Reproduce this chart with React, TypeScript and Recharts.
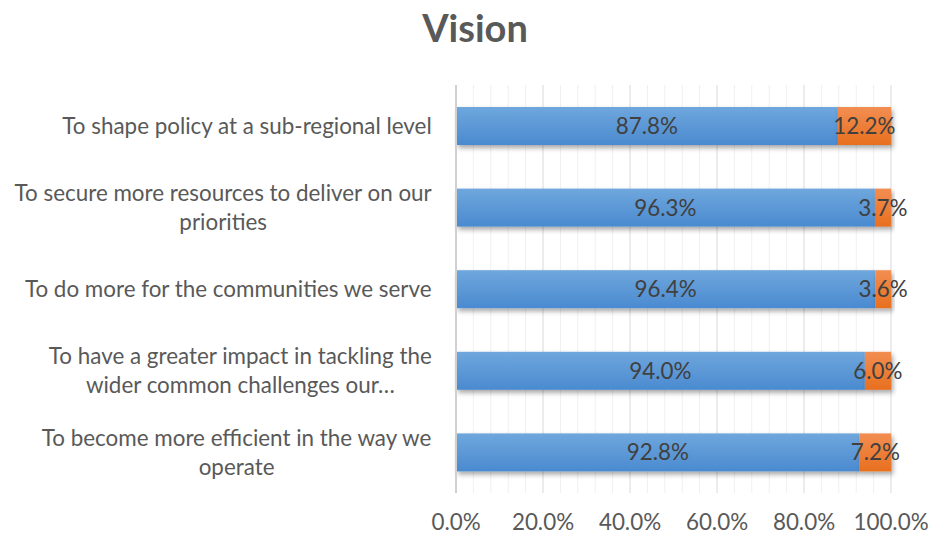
import React from 'react';
import { BarChart, Bar, XAxis, YAxis, CartesianGrid, LabelList } from 'recharts';

const categories = [
  'To shape policy at a sub-regional level',
  'To secure more resources to deliver on our\npriorities',
  'To do more for the communities we serve',
  'To have a greater impact in tackling the\nwider common challenges our…',
  'To become more efficient in the way we\noperate',
];
const yesValues = [87.8, 96.3, 96.4, 94.0, 92.8];
const noValues = [12.2, 3.7, 3.6, 6.0, 7.2];
const majorTicks = [0, 20, 40, 60, 80, 100];
const minorTicks = [4, 8, 12, 16, 24, 28, 32, 36, 44, 48, 52, 56, 64, 68, 72, 76, 84, 88, 92, 96];

const data = categories.map((c, i) => ({ name: c, yes: yesValues[i], no: noValues[i] }));

const FONT = 'Lato, "Open Sans", sans-serif';
const LABEL_SIZE = 22.4;

let ctx: CanvasRenderingContext2D | null = null;
function measure(text: string, font: string) {
  if (!ctx) ctx = document.createElement('canvas').getContext('2d');
  if (!ctx) return text.length * 10;
  ctx.font = font;
  return ctx.measureText(text).width;
}

const pct = (v: any) => Number(v).toFixed(1) + '%';

const CategoryTick = (props: any) => {
  const { x, y, payload } = props;
  const lines: string[] = String(payload.value).split('\n');
  const font = `${LABEL_SIZE}px Lato`;
  const blockW = Math.max(...lines.map((l) => measure(l, font)));
  const right = x - 16;
  const cx = right - blockW / 2;
  const lh = 29;
  const startY = y - ((lines.length - 1) * lh) / 2;
  return (
    <g>
      {lines.map((l, i) => (
        <text
          key={i}
          x={cx}
          y={startY + i * lh}
          dy="0.35em"
          textAnchor="middle"
          fill="#595959"
          fontSize={LABEL_SIZE}
          fontFamily={FONT}
        >
          {l}
        </text>
      ))}
    </g>
  );
};

const makeShape = (grad: string) => (props: any) => {
  const { x, y, width, height } = props;
  if (!width || width <= 0) return <g />;
  return <rect x={x} y={y} width={width} height={height} fill={`url(#${grad})`} filter="url(#barShadow)" />;
};

const BlueShape = makeShape('gBlue');
const OrangeShape = makeShape('gOrange');

export default function App() {
  return (
    <div style={{ position: 'absolute', left: 0, top: 0, width: 930, height: 535, background: '#fff' }}>
      <svg width={0} height={0} style={{ position: 'absolute' }}>
        <defs>
          <linearGradient id="gBlue" x1="0" y1="0" x2="0" y2="1">
            <stop offset="0%" stopColor="#6fa7dd" />
            <stop offset="100%" stopColor="#4a8ad0" />
          </linearGradient>
          <linearGradient id="gOrange" x1="0" y1="0" x2="0" y2="1">
            <stop offset="0%" stopColor="#f28e52" />
            <stop offset="100%" stopColor="#e86f1e" />
          </linearGradient>
          <filter id="barShadow" x="-10%" y="-30%" width="130%" height="180%">
            <feDropShadow dx="2" dy="3" stdDeviation="2.5" floodColor="#000" floodOpacity="0.35" />
          </filter>
        </defs>
      </svg>
      <div
        style={{
          position: 'absolute',
          left: 0,
          width: 950,
          top: 4,
          textAlign: 'center',
          fontFamily: FONT,
          fontWeight: 700,
          fontSize: 38,
          color: '#595959',
        }}
      >
        Vision
      </div>
      <BarChart
        width={930}
        height={535}
        data={data}
        layout="vertical"
        margin={{ top: 85, right: 39, bottom: 12, left: 0 }}
        barCategoryGap={0}
      >
        <CartesianGrid
          horizontal={false}
          stroke="#f0f0f0"
          verticalCoordinatesGenerator={(p: any) => {
            const s = p?.xAxis?.scale;
            if (typeof s === 'function') return minorTicks.map((t) => s(t));
            return minorTicks.map((t) => p.offset.left + (p.offset.width * t) / 100);
          }}
        />
        <CartesianGrid horizontal={false} stroke="#d9d9d9" />
        <XAxis
          type="number"
          domain={[0, 100]}
          ticks={majorTicks}
          tickFormatter={pct}
          axisLine={false}
          tickLine={false}
          height={30}
          tick={{ fill: '#595959', fontSize: LABEL_SIZE, fontFamily: FONT }}
          tickMargin={15}
          interval={0}
        />
        <YAxis
          type="category"
          dataKey="name"
          width={456}
          axisLine={{ stroke: '#d0d0d0', strokeWidth: 2 }}
          tickLine={false}
          tick={<CategoryTick />}
          interval={0}
        />
        <Bar dataKey="yes" stackId="a" barSize={38} isAnimationActive={false} shape={BlueShape}>
          <LabelList dataKey="yes" position="center" formatter={pct} fill="#404040" fontSize={LABEL_SIZE} fontFamily={FONT} />
        </Bar>
        <Bar dataKey="no" stackId="a" barSize={38} isAnimationActive={false} shape={OrangeShape}>
          <LabelList dataKey="no" position="center" formatter={pct} fill="#404040" fontSize={LABEL_SIZE} fontFamily={FONT} />
        </Bar>
      </BarChart>
    </div>
  );
}
